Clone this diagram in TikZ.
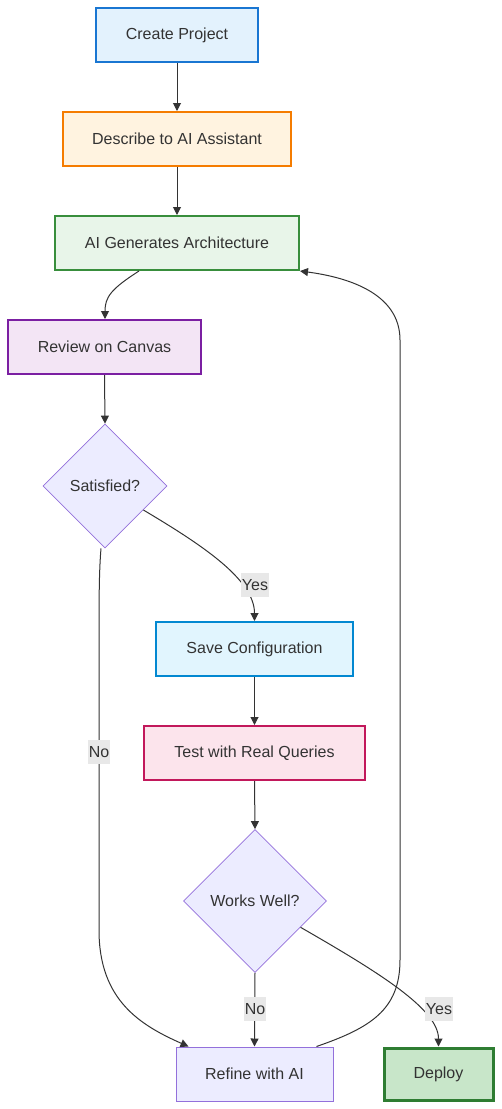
\documentclass[tikz,border=0pt]{standalone}
\usepackage{fontspec}
\setmainfont{Liberation Sans}
\usetikzlibrary{shapes.geometric,arrows.meta,calc}
\definecolor{txt}{HTML}{333333}
\definecolor{edge}{HTML}{333333}
\definecolor{lblbg}{HTML}{E8E8E8}
\definecolor{decfill}{HTML}{ECECFF}
\definecolor{decdraw}{HTML}{9370DB}
\definecolor{c1d}{HTML}{1976D2}\definecolor{c1f}{HTML}{E3F2FD}
\definecolor{c2d}{HTML}{F57C00}\definecolor{c2f}{HTML}{FFF3E0}
\definecolor{c3d}{HTML}{388E3C}\definecolor{c3f}{HTML}{E8F5E9}
\definecolor{c4d}{HTML}{7B1FA2}\definecolor{c4f}{HTML}{F3E5F5}
\definecolor{c5d}{HTML}{0288D1}\definecolor{c5f}{HTML}{E1F5FE}
\definecolor{c6d}{HTML}{C2185B}\definecolor{c6f}{HTML}{FCE4EC}
\definecolor{c7d}{HTML}{2E7D32}\definecolor{c7f}{HTML}{C8E6C9}
\begin{document}
\begin{tikzpicture}[x=1pt,y=-1pt,
  base/.style={draw, rectangle, inner sep=0pt, minimum height=54pt, text=txt,
    font=\fontsize{16}{19}\selectfont},
  dec/.style={draw=decdraw, diamond, aspect=1, inner sep=0pt, fill=decfill,
    line width=0.8pt, text=txt, font=\fontsize{16}{19}\selectfont},
  conn/.style={draw=edge, line width=1pt, -{Triangle[length=8pt,width=8pt]}},
  lbl/.style={fill=lblbg, inner xsep=1pt, inner ysep=0pt, minimum height=24pt, text=txt,
    font=\fontsize{16}{19}\selectfont}
]
\useasboundingbox (0,0) rectangle (502,1109);

\node[base, draw=c1d, fill=c1f, line width=2pt, minimum width=162pt] (create) at (177,35) {Create Project};
\node[base, draw=c2d, fill=c2f, line width=2pt, minimum width=228pt] (describe) at (177,139) {Describe to AI Assistant};
\node[base, draw=c3d, fill=c3f, line width=2pt, minimum width=244pt] (gen) at (177,243) {AI Generates Architecture};
\node[base, draw=c4d, fill=c4f, line width=2pt, minimum width=193pt] (review) at (104.5,347) {Review on Canvas};
\node[dec, minimum size=124pt] (sat) at (105,486) {Satisfied?};
\node[base, draw=c5d, fill=c5f, line width=2pt, minimum width=197pt] (save) at (254.5,649) {Save Configuration};
\node[base, draw=c6d, fill=c6f, line width=2pt, minimum width=221pt] (test) at (254.5,753) {Test with Real Queries};
\node[dec, minimum size=143pt] (works) at (255,901) {Works Well?};
\node[base, draw=decdraw, fill=decfill, line width=1pt, minimum width=157pt] (refine) at (254.5,1074) {Refine with AI};
\node[base, draw=c7d, fill=c7f, line width=3pt, minimum width=109pt, minimum height=52pt] (deploy) at (438.5,1074) {Deploy};

\draw[conn] (create.south) -- (describe.north);
\draw[conn] (describe.south) -- (gen.north);
\draw[conn] ([xshift=-38pt]gen.south) .. controls ++(-28,18) and ++(0,-22) .. ([xshift=0.5pt]review.north);
\draw[conn] (review.south) -- (sat.north);
\draw[conn] (sat.-32) .. controls ++(57,34) and ++(0,-42) .. (save.north);
\node[lbl] (yes1) at (255,585) {Yes};
\draw[conn] ([xshift=-4pt]sat.south) .. controls ++(-2,24) and ++(0,-50) .. (99,650) -- (99,930)
  .. controls (99,1000) and (140,1025) .. ([xshift=-66pt]refine.north);
\node[lbl] (no1) at (99,752) {No};
\draw[conn] (save.south) -- (test.north);
\draw[conn] (test.south) -- (works.north);
\draw[conn] (works.south) -- (refine.north);
\node[lbl] (no2) at (255,1009) {No};
\draw[conn] (works.-30) .. controls ++(80,46) and ++(0,-37) .. (deploy.north);
\node[lbl] (yes2) at (439,1009) {Yes};
\draw[conn] ([xshift=62pt]refine.north) .. controls (370,1028) and (400,1010) .. (400,960) -- (400,340)
  .. controls (400,292) and (345,277) .. (gen.south east);
\end{tikzpicture}
\end{document}
